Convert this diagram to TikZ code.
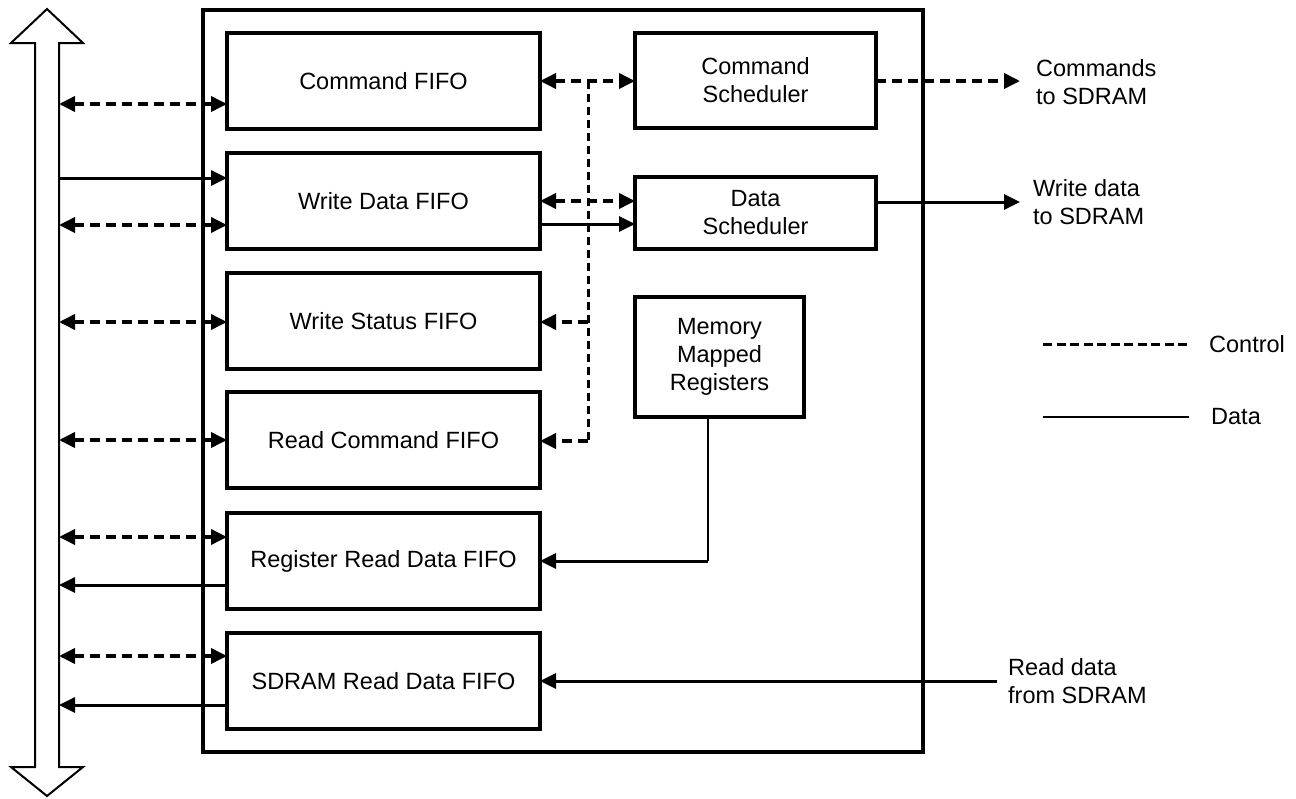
\documentclass[tikz,border=0pt]{standalone}
\usepackage{fontspec}
\setmainfont{Liberation Sans}
\usetikzlibrary{arrows.meta}
\begin{document}
\begin{tikzpicture}[x=1pt,y=-1pt,
  font=\fontsize{23.5}{28}\selectfont,
  blk/.style={draw, line width=3.8pt, outer sep=0pt, inner sep=0pt, align=center},
  tipa/.tip={Triangle[length=16pt,width=15pt]},
  ctl/.style={line width=3.6pt, dash pattern=on 10pt off 6pt},
  dat/.style={line width=3pt},
  lbl/.style={inner sep=0pt, anchor=west, align=left}]
\useasboundingbox (0,0) rectangle (1296,798);

% bus arrow
\draw[line width=2pt, line join=miter] (35,43) -- (11,43) -- (47,9) -- (83,43) -- (59,43)
  -- (59,767) -- (83,767) -- (47,796) -- (11,767) -- (35,767) -- cycle;

% outer box
\node[blk, minimum width=720pt, minimum height=742pt] (outer) at (563,381) {};

% left column
\node[blk, minimum width=313pt, minimum height=96pt] (cmd) at (383.5,81) {Command FIFO};
\node[blk, minimum width=313pt, minimum height=96pt] (wdf) at (383.5,201) {Write Data FIFO};
\node[blk, minimum width=313pt, minimum height=96pt] (wsf) at (383.5,321) {Write Status FIFO};
\node[blk, minimum width=313pt, minimum height=96pt] (rcf) at (383.5,440) {Read Command FIFO};
\node[blk, minimum width=313pt, minimum height=96pt] (rrf) at (383.5,561) {Register Read Data FIFO};
\node[blk, minimum width=313pt, minimum height=96pt] (srf) at (383.5,681) {SDRAM Read Data FIFO};

% right column
\node[blk, minimum width=241pt, minimum height=95pt] (csch) at (755.5,80.5) {Command\\Scheduler};
\node[blk, minimum width=241pt, minimum height=72pt] (dsch) at (755.5,213) {Data\\Scheduler};
\node[blk, minimum width=169pt, minimum height=120pt] (mmr) at (719.5,357) {Memory\\Mapped\\Registers};

% bus attach points
\coordinate (b1) at (59,104);
\coordinate (b2) at (59,178);
\coordinate (b3) at (59,225);
\coordinate (b4) at (59,322);
\coordinate (b5) at (59,440);
\coordinate (b6) at (59,537);
\coordinate (b7) at (59,585);
\coordinate (b8) at (59,656);
\coordinate (b9) at (59,705);

\draw[ctl, tipa-tipa] (b1) -- (b1 -| cmd.west);
\draw[dat, -tipa] (b2) -- (b2 -| wdf.west);
\draw[ctl, tipa-tipa] (b3) -- (b3 -| wdf.west);
\draw[ctl, tipa-tipa] (b4) -- (b4 -| wsf.west);
\draw[ctl, tipa-tipa] (b5) -- (b5 -| rcf.west);
\draw[ctl, tipa-tipa] (b6) -- (b6 -| rrf.west);
\draw[dat, tipa-] (b7) -- (b7 -| rrf.west);
\draw[ctl, tipa-tipa] (b8) -- (b8 -| srf.west);
\draw[dat, tipa-] (b9) -- (b9 -| srf.west);

% control junction
\coordinate (j1) at (588,81);
\coordinate (j2) at (588,201);
\coordinate (j3) at (588,322);
\coordinate (j4) at (588,441);
\draw[ctl, tipa-tipa] (j1 -| cmd.east) -- (j1 -| csch.west);
\draw[ctl, tipa-tipa] (j2 -| wdf.east) -- (j2 -| dsch.west);
\draw[ctl, -tipa] (j3) -- (j3 -| wsf.east);
\draw[ctl, -tipa] (j4) -- (j4 -| rcf.east);
\draw[line width=3pt, dash pattern=on 8pt off 5pt] (j1) -- (j4);

% data write
\coordinate (wd) at (588,224);
\draw[dat, -tipa] (wd -| wdf.east) -- (wd -| dsch.west);

% outputs
\coordinate (co) at (1020,81);
\coordinate (wo) at (1020,202);
\coordinate (ri) at (997,681);
\draw[ctl, -tipa] (co -| csch.east) -- (co);
\draw[dat, -tipa] (wo -| dsch.east) -- (wo);
\draw[dat, -tipa] (ri) -- (ri -| srf.east);

\node[lbl] (tco) at (1036,82) {Commands\\to SDRAM};
\node[lbl] (two) at (1033,202) {Write data\\to SDRAM};
\node[lbl] (tri) at (1008,681) {Read data\\from SDRAM};

% memory mapped registers to register FIFO
\coordinate (mt) at (708,417);
\coordinate (mj) at (708,561);
\draw[line width=1.8pt] (mt) -- (mj);
\draw[dat, -tipa] (mj) -- (mj -| rrf.east);

% legend
\coordinate (l1a) at (1043,344);
\coordinate (l1b) at (1189,344);
\coordinate (l2a) at (1043,417);
\coordinate (l2b) at (1189,417);
\draw[line width=3pt, dash pattern=on 9pt off 4.5pt] (l1a) -- (l1b);
\draw[line width=2.2pt] (l2a) -- (l2b);
\node[lbl] (lc) at (1209,344) {Control};
\node[lbl] (ld) at (1211,417) {Data};
\end{tikzpicture}
\end{document}
